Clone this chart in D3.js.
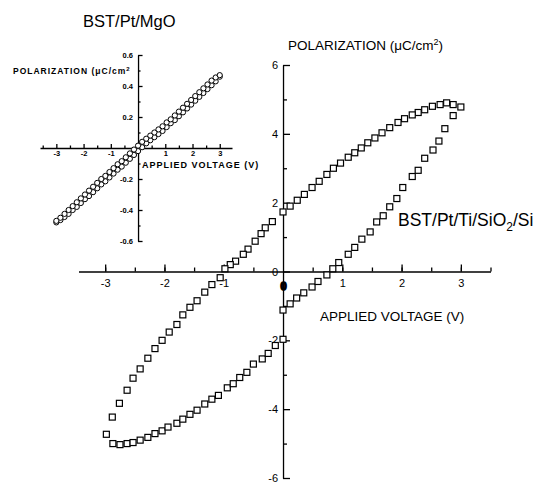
<!DOCTYPE html>
<meta charset="utf-8">
<style>
body { margin: 0; background: #fff; }
svg { font-family: "Liberation Sans", Arial, sans-serif; }
.axis path, .axis line { fill: none; stroke: #000; stroke-width: 1.3; }
.axis text { fill: #000; }
.main .axis text { font-size: 11px; }
.inset .axis text { font-size: 7.5px; font-weight: bold; }
</style>
<body>
<script src="https://d3js.org/d3.v7.min.js"></script>
<script>
// main loop, BST/Pt/Ti/SiO2/Si : upper branch (sweep down from +3 V)
var mainUpV = [3.0, 2.87, 2.76, 2.65, 2.52, 2.39, 2.28, 2.18, 2.05, 1.94, 1.8, 1.67, 1.55, 1.43, 1.32, 1.21, 1.1, 0.97, 0.85, 0.74, 0.61, 0.49, 0.36, 0.24, 0.12, 0.0,
               -0.18, -0.3, -0.37, -0.47, -0.59, -0.67, -0.8, -0.89, -0.98, -1.06, -1.2, -1.32, -1.45, -1.57, -1.69, -1.79, -1.92, -2.04, -2.16, -2.28, -2.41, -2.53, -2.63, -2.76, -2.88, -2.98];
var mainUpP = [4.78, 4.85, 4.9, 4.85, 4.8, 4.7, 4.62, 4.55, 4.44, 4.33, 4.18, 4.03, 3.88, 3.74, 3.59, 3.45, 3.32, 3.15, 3.0, 2.82, 2.62, 2.44, 2.24, 2.07, 1.9, 1.73,
               1.45, 1.27, 1.1, 0.88, 0.65, 0.5, 0.3, 0.2, 0.08, -0.18, -0.38, -0.6, -0.85, -1.04, -1.26, -1.54, -1.76, -2.0, -2.24, -2.52, -2.83, -3.1, -3.45, -3.83, -4.23, -4.73];
// lower branch (sweep up from -3 V)
var mainLowV = [-2.87, -2.75, -2.63, -2.53, -2.41, -2.28, -2.16, -2.04, -1.94, -1.79, -1.69, -1.57, -1.45, -1.32, -1.2, -1.09, -0.94, -0.84, -0.73, -0.61, -0.5, -0.35, -0.25, -0.13, 0.0,
                0.0, 0.12, 0.23, 0.35, 0.49, 0.59, 0.74, 0.84, 0.94, 1.1, 1.21, 1.33, 1.47, 1.58, 1.69, 1.8, 1.92, 2.02, 2.18, 2.28, 2.39, 2.53, 2.63, 2.73, 2.87];
var mainLowP = [-5.0, -5.03, -5.0, -4.97, -4.9, -4.82, -4.71, -4.63, -4.52, -4.41, -4.29, -4.15, -4.03, -3.85, -3.71, -3.6, -3.38, -3.26, -3.08, -2.93, -2.69, -2.54, -2.38, -2.15, -1.97,
                -1.12, -0.94, -0.77, -0.62, -0.45, -0.29, -0.1, 0.08, 0.26, 0.5, 0.7, 0.94, 1.15, 1.44, 1.62, 1.88, 2.12, 2.44, 2.76, 2.94, 3.29, 3.53, 3.79, 4.15, 4.53];

// inset loop, BST/Pt/MgO
var insetV = [-3, -2.85, -2.7, -2.55, -2.4, -2.25, -2.1, -1.95, -1.8, -1.65, -1.5, -1.35, -1.2, -1.05, -0.9, -0.75, -0.6, -0.45, -0.3, -0.15, 0,
              0.15, 0.3, 0.45, 0.6, 0.75, 0.9, 1.05, 1.2, 1.35, 1.5, 1.65, 1.8, 1.95, 2.1, 2.25, 2.4, 2.55, 2.7, 2.85, 3];
var insetUp = [-0.47, -0.45, -0.425, -0.4, -0.375, -0.35, -0.325, -0.3, -0.275, -0.25, -0.225, -0.2, -0.18, -0.155, -0.13, -0.105, -0.085, -0.06, -0.035, -0.01, 0.015,
               0.04, 0.06, 0.08, 0.1, 0.12, 0.14, 0.165, 0.185, 0.21, 0.235, 0.26, 0.285, 0.31, 0.335, 0.36, 0.385, 0.41, 0.435, 0.455, 0.47];
var insetDown = [-0.48, -0.465, -0.445, -0.425, -0.4, -0.38, -0.355, -0.33, -0.31, -0.285, -0.26, -0.235, -0.215, -0.19, -0.165, -0.14, -0.12, -0.095, -0.07, -0.045, -0.02,
                 0.005, 0.03, 0.05, 0.07, 0.09, 0.11, 0.135, 0.16, 0.18, 0.205, 0.23, 0.255, 0.28, 0.305, 0.33, 0.355, 0.38, 0.405, 0.43, 0.46];

// tick values
var mainXTicks = [-3, -2, -1, 1, 2, 3];
var mainXMinor = [-3, -2.5, -2, -1.5, -1, -0.5, 0.5, 1, 1.5, 2, 2.5, 3, 3.5];
var mainYTicks = [-6, -4, -2, 0, 2, 4, 6];
var mainYMinor = [-5, -3, -1, 1, 3, 5];
var insetXTicks = [-3, -2, -1, 1, 2, 3];
var insetXMinor = [-3.5, -2.5, -1.5, -0.5, 0.5, 1.5, 2.5];
var insetYTicks = [-0.6, -0.4, -0.2, 0.2, 0.4, 0.6];
var insetYMinor = [-0.5, -0.3, -0.1, 0.1, 0.3, 0.5];

var svg = d3.select("body").append("svg")
    .attr("width", 539)
    .attr("height", 483);

// ---------- main chart ----------
var x = d3.scaleLinear().domain([-3.45, 3.5]).range([78.5, 490.5]);
var y = d3.scaleLinear().domain([-6, 6]).range([478, 65]);

var main = svg.append("g").attr("class", "main");

main.append("g")
    .attr("class", "axis")
    .attr("transform", "translate(0," + y(0) + ")")
    .call(d3.axisBottom(x).tickValues(mainXMinor).tickSizeInner(-4).tickSizeOuter(0).tickFormat(""));
main.append("g")
    .attr("class", "axis")
    .attr("transform", "translate(0," + y(0) + ")")
    .call(d3.axisBottom(x).tickValues(mainXTicks).tickSizeInner(-7).tickSizeOuter(0).tickPadding(8)
        .tickFormat(function(d) { return String(d); }))
    .select(".domain").remove();

main.append("g")
    .attr("class", "axis")
    .attr("transform", "translate(" + x(0) + ",0)")
    .call(d3.axisLeft(y).tickValues(mainYMinor).tickSizeInner(-4).tickSizeOuter(0).tickFormat(""));
main.append("g")
    .attr("class", "axis")
    .attr("transform", "translate(" + x(0) + ",0)")
    .call(d3.axisLeft(y).tickValues(mainYTicks).tickSizeInner(-7).tickSizeOuter(0).tickPadding(5)
        .tickFormat(function(d) { return String(d); }))
    .select(".domain").remove();

// the blotted "0" under the origin
main.append("text")
    .attr("x", x(0) + 0.5)
    .attr("y", y(0) + 18)
    .attr("text-anchor", "middle")
    .style("font-size", "11px")
    .style("font-weight", "bold")
    .style("stroke", "#000")
    .style("stroke-width", 1.5)
    .text("0");

var sq = 6;
function squares(vs, ps) {
    main.append("g").selectAll("rect")
        .data(vs.map(function(v, i) { return {v: v, p: ps[i]}; }))
        .enter().append("rect")
        .attr("x", function(d) { return x(d.v) - sq / 2; })
        .attr("y", function(d) { return y(d.p) - sq / 2; })
        .attr("width", sq)
        .attr("height", sq)
        .attr("fill", "#fff")
        .attr("stroke", "#000")
        .attr("stroke-width", 1.2);
}
squares(mainUpV, mainUpP);
squares(mainLowV, mainLowP);

var t1 = main.append("text")
    .attr("x", 288).attr("y", 50)
    .style("font-size", "13.5px");
t1.append("tspan").text("POLARIZATION (\u03bcC/cm");
t1.append("tspan").attr("dy", -5).style("font-size", "9px").text("2");
t1.append("tspan").attr("dy", 5).text(")");

main.append("text")
    .attr("x", 320).attr("y", 321)
    .style("font-size", "13.5px")
    .text("APPLIED VOLTAGE (V)");

var t2 = main.append("text")
    .attr("x", 398).attr("y", 226)
    .style("font-size", "17.5px");
t2.append("tspan").text("BST/Pt/Ti/SiO");
t2.append("tspan").attr("dy", 5).style("font-size", "12px").text("2");
t2.append("tspan").attr("dy", -5).text("/Si");

// ---------- inset ----------
var xi = d3.scaleLinear().domain([-3.6, 3.45]).range([40, 232]);
var yi = d3.scaleLinear().domain([-0.6, 0.6]).range([241, 55]);

var inset = svg.append("g").attr("class", "inset");

inset.append("g")
    .attr("class", "axis")
    .attr("transform", "translate(0," + yi(0) + ")")
    .call(d3.axisBottom(xi).tickValues(insetXMinor).tickSizeInner(-2.5).tickSizeOuter(0).tickFormat(""));
inset.append("g")
    .attr("class", "axis")
    .attr("transform", "translate(0," + yi(0) + ")")
    .call(d3.axisBottom(xi).tickValues(insetXTicks).tickSizeInner(-4).tickSizeOuter(0).tickPadding(3)
        .tickFormat(function(d) { return String(d); }))
    .select(".domain").remove();

inset.append("g")
    .attr("class", "axis")
    .attr("transform", "translate(" + xi(0) + ",0)")
    .call(d3.axisLeft(yi).tickValues(insetYMinor).tickSizeInner(-2.5).tickSizeOuter(0).tickFormat(""));
inset.append("g")
    .attr("class", "axis")
    .attr("transform", "translate(" + xi(0) + ",0)")
    .call(d3.axisLeft(yi).tickValues(insetYTicks).tickSizeInner(-4.5).tickSizeOuter(0).tickPadding(5)
        .tickFormat(d3.format(".1f")))
    .select(".domain").remove();

inset.selectAll(".axis text").text(function() { return this.textContent.replace("\u2212", "-"); });

function circles(vs, ps) {
    inset.append("g").selectAll("circle")
        .data(vs.map(function(v, i) { return {v: v, p: ps[i]}; }))
        .enter().append("circle")
        .attr("cx", function(d) { return xi(d.v); })
        .attr("cy", function(d) { return yi(d.p); })
        .attr("r", 2.6)
        .attr("fill", "#fff")
        .attr("stroke", "#000")
        .attr("stroke-width", 1);
}
circles(insetV, insetDown);
circles(insetV, insetUp);

svg.append("text")
    .attr("x", 83).attr("y", 27)
    .style("font-size", "16.5px")
    .text("BST/Pt/MgO");

var t3 = inset.append("text")
    .attr("x", 13).attr("y", 74)
    .style("font-size", "8.5px")
    .style("font-weight", "bold")
    .style("letter-spacing", "1px");
t3.append("tspan").text("POLARIZATION (\u03bcC/cm");
t3.append("tspan").attr("dy", -3).style("font-size", "6px").text("2");

inset.append("text")
    .attr("x", 142).attr("y", 168)
    .style("font-size", "9px")
    .style("font-weight", "bold")
    .style("letter-spacing", "1px")
    .text("APPLIED VOLTAGE (V)");
</script>
</body>
